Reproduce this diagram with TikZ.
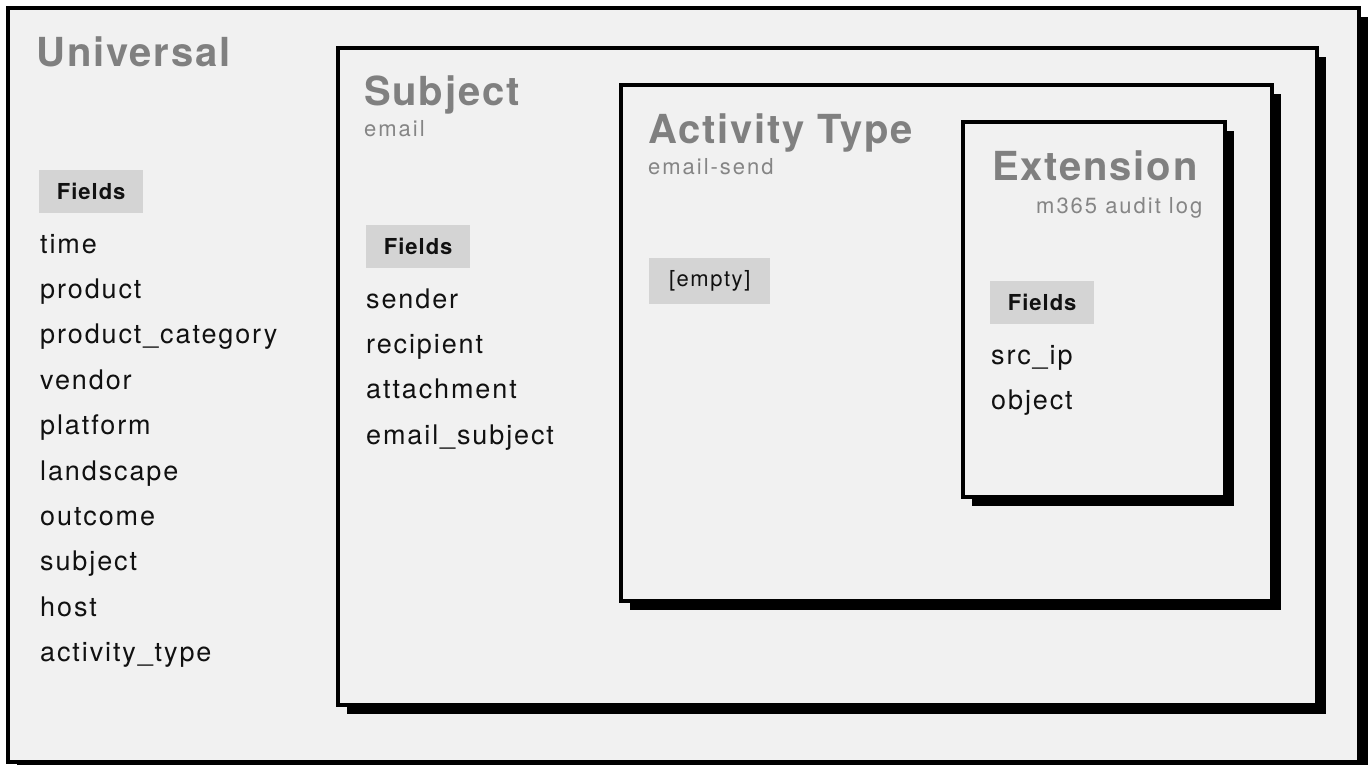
\documentclass[tikz,border=0pt]{standalone}
\usepackage{fontspec}
\setmainfont{TeX Gyre Heros}
\newfontfamily\headfont[LetterSpace=4.5]{TeX Gyre Heros}
\newfontfamily\itemfont[LetterSpace=7]{TeX Gyre Heros}
\newfontfamily\subfont[LetterSpace=9]{TeX Gyre Heros}
\usetikzlibrary{shadows,positioning}

\definecolor{panelfill}{HTML}{F1F1F1}
\definecolor{tagfill}{HTML}{D4D4D4}
\definecolor{titlegray}{HTML}{808080}
\definecolor{subgray}{HTML}{858585}
\definecolor{itemblack}{HTML}{111111}

\begin{document}
\begin{tikzpicture}[
    x=1pt, y=-1pt,
    panel/.style={draw=black, line width=4pt, fill=panelfill, inner sep=0pt, outer sep=0pt, anchor=north west,
      drop shadow={shadow xshift=9pt, shadow yshift=-9pt, fill=black, opacity=1}},
    title/.style={anchor=base west, inner sep=0pt, text=titlegray, font=\headfont\bfseries\fontsize{40}{48}\selectfont},
    subtitle/.style={anchor=base west, inner sep=0pt, text=subgray, font=\subfont\fontsize{22}{26}\selectfont},
    tag/.style={anchor=north west, fill=tagfill, inner sep=0pt, minimum width=104pt, minimum height=43pt,
      text=itemblack, font=\headfont\bfseries\fontsize{22}{26}\selectfont},
    field/.style={anchor=base west, inner sep=0pt, text=itemblack, font=\itemfont\fontsize{27}{32}\selectfont}
  ]
    \useasboundingbox[fill=white] (0,0) rectangle (1371,765);

    % Nested panels
    \node[panel, minimum width=1351pt, minimum height=754pt] (univ) at (8,8) {};
    \node[panel, minimum width=979pt, minimum height=657pt] (subj) at (338,48) {};
    \node[panel, minimum width=651pt, minimum height=516pt] (act) at (621,85) {};
    \node[panel, minimum width=262pt, minimum height=375pt] (ext) at (963,122) {};

    % Headings
    \node[title] (univ-title) at (36,67) {Universal};
    \node[title] (subj-title) at (364,106) {Subject};
    \node[subtitle] (subj-sub) at (364,137) {email};
    \node[title] (act-title) at (648,143) {Activity Type};
    \node[subtitle] (act-sub) at (648,175) {email-send};
    \node[title] (ext-title) at (992,181) {Extension};
    \node[subtitle] (ext-sub) at (1036,213) {m365 audit log};

    % Field tags
    \node[tag] (univ-tag) at (39,170) {Fields};
    \node[tag] (subj-tag) at (366,225) {Fields};
    \node[tag, minimum width=121pt, minimum height=46pt, font=\itemfont\fontsize{22}{26}\selectfont] (act-tag) at (649,258) {[empty]};
    \node[tag] (ext-tag) at (990,281) {Fields};

    % Field lists
    \foreach \f [count=\i from 0] in {time,product,product\_category,vendor,platform,landscape,outcome,subject,host,activity\_type}
      \node[field] (univ-f\i) at (40,253+45.4*\i) {\f};
    \foreach \f [count=\i from 0] in {sender,recipient,attachment,email\_subject}
      \node[field] (subj-f\i) at (366,308+45.4*\i) {\f};
    \foreach \f [count=\i from 0] in {src\_ip,object}
      \node[field] (ext-f\i) at (991,364+45*\i) {\f};
  \end{tikzpicture}
\end{document}
